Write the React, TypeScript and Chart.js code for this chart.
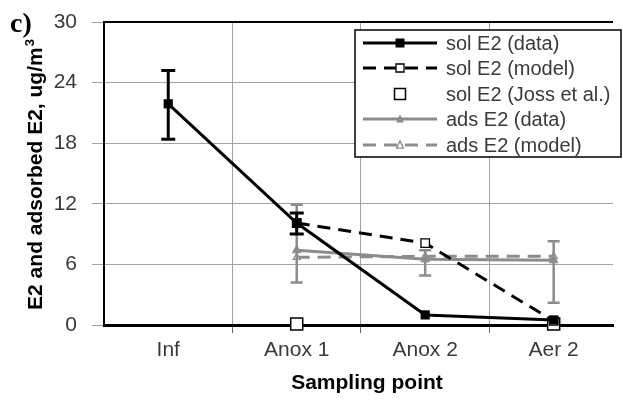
import { useEffect, useRef } from "react";
import { Chart, registerables } from "chart.js";

Chart.register(...registerables);

// Sampling points along the treatment train
const categories = ["Inf", "Anox 1", "Anox 2", "Aer 2"];
const yTickStep = 6;
const yMax = 30;

// Dissolved E2 (measured) with error range
const solData = [21.9, 10.1, 1.0, 0.5];
const solDataLow = [18.4, 9.0, null, null];
const solDataHigh = [25.2, 11.1, null, null];
// Dissolved E2 (model)
const solModel = [null, 10.1, 8.1, 0.4];
// Dissolved E2 reported by Joss et al.
const solJoss = [null, 0.1, null, 0.1];
// Adsorbed E2 (measured) with error range
const adsData = [null, 7.4, 6.5, 6.4];
const adsDataLow = [null, 4.2, 4.9, 2.2];
const adsDataHigh = [null, 11.9, 7.4, 8.3];
// Adsorbed E2 (model)
const adsModel = [null, 6.7, 6.8, 6.8];

const seriesLabels = [
  "sol E2 (data)",
  "sol E2 (model)",
  "sol E2 (Joss et al.)",
  "ads E2 (data)",
  "ads E2 (model)",
];

const GRAY = "#8c8c8c";
const GRID = "#a2a2a2";
const TEXT = "#3a3a3a";
const SANS = "'Liberation Sans', Arial, Helvetica, sans-serif";

const toPoints = (vals: (number | null)[]) =>
  vals
    .map((v, i) => (v == null ? null : { x: i, y: v }))
    .filter((p) => p !== null) as { x: number; y: number }[];

// error ranges per dataset index
const errorRanges: Record<number, { low: (number | null)[]; high: (number | null)[]; color: string; width: number; cap: number }> = {
  0: { low: solDataLow, high: solDataHigh, color: "#000", width: 3, cap: 7 },
  3: { low: adsDataLow, high: adsDataHigh, color: GRAY, width: 2.5, cap: 6 },
};

const errorBars = {
  id: "errorBars",
  afterDatasetDraw(chart: any, args: any) {
    const err = errorRanges[args.index];
    if (!err) return;
    const { ctx } = chart;
    const xs = chart.scales.x;
    const ys = chart.scales.y;
    ctx.save();
    ctx.strokeStyle = err.color;
    ctx.lineWidth = err.width;
    err.low.forEach((lo, i) => {
      const hi = err.high[i];
      if (lo == null || hi == null) return;
      const px = xs.getPixelForValue(i);
      const y1 = ys.getPixelForValue(lo);
      const y2 = ys.getPixelForValue(hi);
      ctx.beginPath();
      ctx.moveTo(px, y1);
      ctx.lineTo(px, y2);
      ctx.moveTo(px - err.cap, y1);
      ctx.lineTo(px + err.cap, y1);
      ctx.moveTo(px - err.cap, y2);
      ctx.lineTo(px + err.cap, y2);
      ctx.stroke();
    });
    ctx.restore();
  },
};

function drawMarker(ctx: CanvasRenderingContext2D, style: string, x: number, y: number, size: number, fill: string, stroke: string, lw: number) {
  ctx.save();
  ctx.fillStyle = fill;
  ctx.strokeStyle = stroke;
  ctx.lineWidth = lw;
  ctx.setLineDash([]);
  ctx.beginPath();
  if (style === "rect") {
    ctx.rect(x - size / 2, y - size / 2, size, size);
  } else {
    const h = size * 0.9;
    ctx.moveTo(x, y - h / 2 - 1);
    ctx.lineTo(x + size / 2, y + h / 2);
    ctx.lineTo(x - size / 2, y + h / 2);
    ctx.closePath();
  }
  ctx.fill();
  if (lw > 0) ctx.stroke();
  ctx.restore();
}

// legend box, frame line, axis titles and panel tag
const decorations = {
  id: "decorations",
  afterDraw(chart: any) {
    const { ctx, chartArea } = chart;
    ctx.save();

    // top frame line
    ctx.strokeStyle = "#000";
    ctx.lineWidth = 2;
    ctx.beginPath();
    ctx.moveTo(chartArea.left - 1, chartArea.top);
    ctx.lineTo(chartArea.right, chartArea.top);
    ctx.stroke();

    // legend
    const bx = 355, by = 30, bw = 266, bh = 127;
    ctx.fillStyle = "#fff";
    ctx.fillRect(bx, by, bw, bh);
    ctx.strokeStyle = "#000";
    ctx.lineWidth = 1.5;
    ctx.strokeRect(bx, by, bw, bh);

    const rows = [43, 68, 94, 119, 145];
    const lx0 = 363, lx1 = 437, mx = 400, tx = 446;
    const legendStyles = [
      { color: "#000", dash: [], line: true, marker: "rect", size: 9, fill: "#000", stroke: "#000", lw: 0 },
      { color: "#000", dash: [13, 8], line: true, marker: "rect", size: 8, fill: "#fff", stroke: "#000", lw: 1.3 },
      { color: "#000", dash: [], line: false, marker: "rect", size: 11, fill: "#fff", stroke: "#000", lw: 1.5 },
      { color: GRAY, dash: [], line: true, marker: "tri", size: 8, fill: GRAY, stroke: GRAY, lw: 0 },
      { color: GRAY, dash: [13, 8], line: true, marker: "tri", size: 7, fill: "#fff", stroke: GRAY, lw: 1.3 },
    ];
    ctx.font = `20px ${SANS}`;
    ctx.textBaseline = "middle";
    ctx.textAlign = "left";
    seriesLabels.forEach((label, i) => {
      const s = legendStyles[i];
      const y = rows[i];
      if (s.line) {
        ctx.strokeStyle = s.color;
        ctx.lineWidth = 3;
        ctx.setLineDash(s.dash);
        ctx.beginPath();
        ctx.moveTo(lx0, y);
        ctx.lineTo(lx1, y);
        ctx.stroke();
        ctx.setLineDash([]);
      }
      drawMarker(ctx, s.marker, mx, y, s.size, s.fill, s.stroke, s.lw);
      ctx.fillStyle = TEXT;
      ctx.fillText(label, tx, y + 1);
    });

    // y axis title with superscript
    ctx.fillStyle = "#000";
    ctx.translate(36, 175);
    ctx.rotate(-Math.PI / 2);
    const main = "E2 and adsorbed E2, ug/m";
    ctx.font = `bold 21px ${SANS}`;
    const wMain = ctx.measureText(main).width;
    ctx.font = `bold 13px ${SANS}`;
    const wSup = ctx.measureText("3").width;
    const start = -(wMain + wSup) / 2;
    ctx.font = `bold 21px ${SANS}`;
    ctx.textAlign = "left";
    ctx.textBaseline = "middle";
    ctx.fillText(main, start, 0);
    ctx.font = `bold 13px ${SANS}`;
    ctx.fillText("3", start + wMain + 1, -6);
    ctx.setTransform(1, 0, 0, 1, 0, 0);

    // x axis title
    ctx.font = `bold 21px ${SANS}`;
    ctx.textAlign = "center";
    ctx.textBaseline = "middle";
    ctx.fillText("Sampling point", 367, 383);

    // panel tag
    ctx.font = "bold 28px 'Liberation Serif', 'Times New Roman', serif";
    ctx.textAlign = "left";
    ctx.textBaseline = "alphabetic";
    ctx.fillText("c)", 10, 32);

    ctx.restore();
  },
};

export default function App() {
  const ref = useRef<HTMLCanvasElement>(null);

  useEffect(() => {
    const canvas = ref.current;
    if (!canvas) return;
    const xMin = -0.5;
    const xMax = -0.5 + (623 - 104) / 131;

    const chart = new Chart(canvas, {
      type: "line",
      data: {
        datasets: [
          {
            label: seriesLabels[0],
            data: toPoints(solData),
            borderColor: "#000",
            borderWidth: 3,
            pointStyle: "rect",
            pointRadius: 6.5,
            pointBackgroundColor: "#000",
            pointBorderColor: "#000",
            pointBorderWidth: 0,
            tension: 0,
            clip: false,
          },
          {
            label: seriesLabels[1],
            data: toPoints(solModel),
            borderColor: "#000",
            borderWidth: 3,
            borderDash: [13, 8],
            pointStyle: "rect",
            pointRadius: 6,
            pointBackgroundColor: "#fff",
            pointBorderColor: "#000",
            pointBorderWidth: 1.3,
            tension: 0,
            clip: false,
          },
          {
            label: seriesLabels[2],
            data: toPoints(solJoss),
            showLine: false,
            pointStyle: "rect",
            pointRadius: 8.5,
            pointBackgroundColor: "#fff",
            pointBorderColor: "#000",
            pointBorderWidth: 1.5,
            clip: false,
          },
          {
            label: seriesLabels[3],
            data: toPoints(adsData),
            borderColor: GRAY,
            borderWidth: 3,
            pointStyle: "triangle",
            pointRadius: 5,
            pointBackgroundColor: GRAY,
            pointBorderColor: GRAY,
            pointBorderWidth: 1,
            tension: 0,
            clip: false,
          },
          {
            label: seriesLabels[4],
            data: toPoints(adsModel),
            borderColor: GRAY,
            borderWidth: 3,
            borderDash: [13, 8],
            pointStyle: "triangle",
            pointRadius: 4,
            pointBackgroundColor: "#fff",
            pointBorderColor: GRAY,
            pointBorderWidth: 1.3,
            tension: 0,
            clip: false,
          },
        ],
      },
      options: {
        responsive: false,
        devicePixelRatio: 1,
        animation: false,
        events: [],
        layout: { padding: { top: 22, right: 0, bottom: 0, left: 0 } },
        plugins: {
          legend: { display: false },
          tooltip: { enabled: false },
          title: { display: false },
        },
        scales: {
          x: {
            type: "linear",
            min: xMin,
            max: xMax,
            afterBuildTicks: (scale: any) => {
              const vals: number[] = [];
              for (let v = 0; v <= categories.length - 1; v += 0.5) vals.push(v);
              scale.ticks = vals.map((v) => ({ value: v }));
            },
            afterFit: (scale: any) => {
              scale.height = 75;
              scale.paddingLeft = 0;
              scale.paddingRight = 0;
            },
            ticks: {
              autoSkip: false,
              maxRotation: 0,
              padding: 5,
              color: TEXT,
              font: { family: SANS, size: 21 },
              callback: (value: any) =>
                Number.isInteger(value) ? categories[value] : "",
            },
            grid: {
              color: (c: any) =>
                c.tick && Number.isInteger(c.tick.value) ? "rgba(0,0,0,0)" : GRID,
              tickColor: (c: any) =>
                c.tick && Number.isInteger(c.tick.value) ? "rgba(0,0,0,0)" : "#666",
              tickLength: 8,
              lineWidth: 1,
            },
            border: { color: "#000", width: 3 },
          },
          y: {
            min: 0,
            max: yMax,
            afterFit: (scale: any) => {
              scale.width = 104;
              scale.paddingTop = 0;
              scale.paddingBottom = 0;
            },
            ticks: {
              stepSize: yTickStep,
              padding: 15,
              color: TEXT,
              font: { family: SANS, size: 21 },
            },
            grid: {
              color: GRID,
              tickColor: GRID,
              tickLength: 12,
              lineWidth: 1,
            },
            border: { color: "#000", width: 2 },
          },
        },
      },
      plugins: [errorBars, decorations],
    });

    return () => chart.destroy();
  }, []);

  return (
    <div style={{ position: "absolute", left: 0, top: 0, width: 623, height: 400, background: "#fff" }}>
      <canvas ref={ref} width={623} height={400} style={{ display: "block" }} />
    </div>
  );
}
